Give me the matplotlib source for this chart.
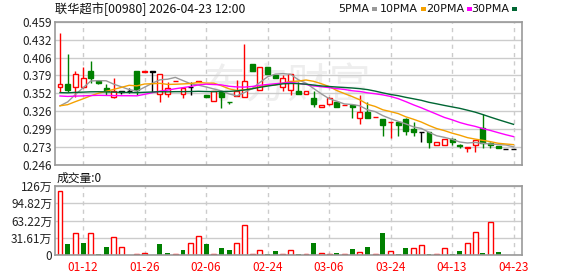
import numpy as np
import matplotlib.pyplot as plt
from matplotlib.patches import Rectangle

plt.rcParams['font.family'] = ['Noto Sans CJK SC', 'DejaVu Sans']

# daily candles (HKD), left to right
opens = [0.3620, 0.3660, 0.3620, 0.3620, 0.3857, 0.3709, 0.3600, 0.3471, 0.3550, 0.3555,
         0.3857, 0.3845, 0.3848, 0.3510, 0.3516, 0.3702, 0.3510, 0.3615, 0.3700, 0.3501,
         0.3412, 0.3550, 0.3395, 0.3490, 0.3466, 0.3961, 0.3570, 0.3912, 0.3798, 0.3615,
         0.3575, 0.3560, 0.3510, 0.3451, 0.3323, 0.3362, 0.3402, 0.3350, 0.3348, 0.3155,
         0.3244, 0.3175, 0.3140, 0.3092, 0.3095, 0.3140, 0.2991, 0.2946, 0.2946, 0.2758,
         0.2758, 0.2843, 0.2752, 0.2709, 0.2758, 0.3006, 0.2793, 0.2748, 0.2699, 0.2699]
closes = [0.3659, 0.3570, 0.3808, 0.3749, 0.3758, 0.3684, 0.3560, 0.3555, 0.3550, 0.3555,
          0.3570, 0.3850, 0.3848, 0.3808, 0.3600, 0.3706, 0.3610, 0.3615, 0.3706, 0.3466,
          0.3555, 0.3466, 0.3390, 0.3560, 0.3709, 0.3862, 0.3912, 0.3813, 0.3758, 0.3748,
          0.3808, 0.3510, 0.3555, 0.3362, 0.3352, 0.3451, 0.3318, 0.3354, 0.3323, 0.3254,
          0.3155, 0.3180, 0.3056, 0.3095, 0.3056, 0.2966, 0.2956, 0.2946, 0.2808, 0.2798,
          0.2848, 0.2808, 0.2748, 0.2734, 0.2838, 0.2783, 0.2758, 0.2709, 0.2699, 0.2699]
highs = [0.4417, 0.4110, 0.3857, 0.3922, 0.4006, 0.3714, 0.3664, 0.3758, 0.3560, 0.3600,
         0.3857, 0.3850, 0.3848, 0.3808, 0.3699, 0.3706, 0.3610, 0.3700, 0.3706, 0.3501,
         0.3555, 0.3550, 0.3395, 0.3724, 0.4258, 0.3961, 0.3912, 0.3912, 0.3798, 0.3798,
         0.3808, 0.3699, 0.3555, 0.3560, 0.3352, 0.3476, 0.3402, 0.3354, 0.3360, 0.3501,
         0.3392, 0.3180, 0.3140, 0.3095, 0.3095, 0.3155, 0.3095, 0.2946, 0.2946, 0.2798,
         0.2848, 0.2868, 0.2768, 0.2734, 0.2838, 0.3214, 0.2808, 0.2748, 0.2699, 0.2699]
lows = [0.3550, 0.3550, 0.3476, 0.3610, 0.3674, 0.3670, 0.3500, 0.3461, 0.3510, 0.3526,
        0.3500, 0.3845, 0.3550, 0.3402, 0.3476, 0.3702, 0.3460, 0.3500, 0.3700, 0.3466,
        0.3412, 0.3313, 0.3362, 0.3490, 0.3466, 0.3862, 0.3570, 0.3813, 0.3758, 0.3560,
        0.3501, 0.3510, 0.3510, 0.3328, 0.3323, 0.3352, 0.3318, 0.3350, 0.3155, 0.3065,
        0.3155, 0.3175, 0.2897, 0.2858, 0.2897, 0.2907, 0.2897, 0.2808, 0.2709, 0.2758,
        0.2758, 0.2758, 0.2719, 0.2650, 0.2660, 0.2709, 0.2709, 0.2709, 0.2699, 0.2699]

# volume in 万 shares, and whether the bar is drawn as an up day
volumes = [117.3, 20.2, 40.3, 22.6, 40.3, 2.4, 14.7, 33.0, 14.0, 0,
           1.8, 4.3, 0, 20.2, 3.7, 1.8, 9.2, 22.0, 34.8, 20.2,
           2.4, 12.8, 9.2, 22.0, 55.0, 2.4, 9.2, 1.0, 7.9, 2.4,
           9.2, 1.8, 1.8, 22.6, 4.3, 2.4, 4.3, 2.4, 11.0, 5.5,
           14.7, 1.8, 40.9, 7.3, 1.8, 12.8, 12.2, 18.3, 1.8, 1.8,
           12.8, 1.8, 7.3, 22.0, 41.5, 3.7, 60.5, 6.1, 0, 0]
vol_up = [1, 0, 1, 0, 1, 0, 0, 1, 1, 1, 1, 1, 1, 0, 0, 1, 0, 1, 1, 0,
          1, 0, 0, 1, 1, 1, 1, 0, 0, 1, 1, 0, 1, 0, 1, 1, 0, 1, 0, 1,
          0, 1, 0, 1, 0, 0, 1, 1, 0, 1, 1, 0, 0, 1, 1, 0, 1, 0, 1, 1]

# closes before the visible window (estimated), needed for the moving averages
prior_closes = [0.366, 0.361, 0.364, 0.362, 0.365, 0.363, 0.366, 0.361, 0.364, 0.364,
                0.370, 0.372, 0.368, 0.366, 0.362, 0.360, 0.358, 0.360, 0.356, 0.360,
                0.340, 0.336, 0.333, 0.331, 0.330,
                0.328, 0.326, 0.325, 0.325]

date_labels = ['01-12', '01-26', '02-06', '02-24', '03-06', '03-24', '04-13', '04-23']
date_idx = [3, 11, 19, 27, 35, 43, 51, 59]

price_ticks = [0.246, 0.273, 0.299, 0.326, 0.352, 0.379, 0.406, 0.432, 0.459]
vol_ticks = [0, 31.61, 63.22, 94.82, 126.44]
vol_tick_labels = ['0', '31.61万', '63.22万', '94.82万', '126万']

ma_periods = [5, 10, 20, 30]
ma_colors = ['#999999', '#f5a100', '#ff00ff', '#006633']

RED = '#ff0000'
GREEN = '#008000'
GRID = '#cccccc'
W, H = 578, 276

fig = plt.figure(figsize=(W / 100, H / 100), dpi=100)
ax = fig.add_axes([55 / W, 1 - 165 / H, 467 / W, 143.3 / H])
axv = fig.add_axes([55 / W, 1 - 255 / H, 467 / W, 69 / H])

n = len(closes)
x = np.arange(n)
lo_edge, hi_edge = -0.65, 60.1

ymin, ymax = 0.246, 0.459
ax.set_ylim(ymin, ymax)
ax.set_yticks(np.linspace(ymin, ymax, 9))
ax.set_yticklabels(['%.3f' % t for t in price_ticks])
axv.set_ylim(0, 126.44)
axv.set_yticks(vol_ticks)
axv.set_yticklabels(vol_tick_labels)

for a in (ax, axv):
    a.set_xlim(lo_edge, hi_edge)
    a.set_xticks(date_idx)
    for s in a.spines.values():
        s.set_color('#999999')
        s.set_linewidth(1.2)
    a.grid(axis='y', color=GRID, lw=1, zorder=0)
    for d in date_idx:
        a.axvline(d, color=GRID, lw=1, ls=(0, (3, 3)), zorder=0)
    a.tick_params(length=0, pad=2, labelsize=8.5, colors='#222222')
ax.set_xticklabels([])
axv.set_xticklabels(date_labels)
axv.tick_params(axis='x', colors=RED, labelsize=8.5, pad=4)

# watermark
ax.text(29.5, 0.362, '东方财富', fontsize=30, color='#eeeeee', ha='center', va='center', zorder=0.5)

# candles
bw = 0.64
for i in range(n):
    o, c, h, l = opens[i], closes[i], highs[i], lows[i]
    if c > o:
        col, face = RED, 'white'
    elif c < o:
        col, face = GREEN, GREEN
    else:
        col, face = 'black', 'black'
    ax.vlines(i, l, h, color=col, lw=1, zorder=2)
    bottom = min(o, c)
    height = max(abs(c - o), 0.0004)
    ax.add_patch(Rectangle((i - bw / 2, bottom), bw, height, facecolor=face,
                           edgecolor=col, lw=1, zorder=2.5))

# moving averages
allc = np.array(prior_closes + closes)
off = len(prior_closes)
for p, colr in zip(ma_periods, ma_colors):
    ma = [allc[off + i - p + 1: off + i + 1].mean() for i in range(n)]
    ax.plot(x, ma, color=colr, lw=1, zorder=3)

# volume bars
for i in range(n):
    if volumes[i] <= 0:
        continue
    if vol_up[i]:
        axv.bar(i, volumes[i], width=bw, facecolor='white', edgecolor=RED, lw=1, zorder=2)
    else:
        axv.bar(i, volumes[i], width=bw, color=GREEN, lw=0, zorder=2)

# header texts
fig.text(55 / W, 1 - 9 / H, '联华超市[00980] 2026-04-23 12:00', fontsize=8.8,
         va='center', ha='left', color='#111111')
fig.text(57 / W, 1 - 178 / H, '成交量:0', fontsize=8.5, va='center', ha='left', color='#111111')

leg_x = [338, 380, 426, 471]
for (p, colr, lx) in zip(ma_periods, ma_colors, leg_x):
    t = fig.text(lx / W, 1 - 9 / H, '%dPMA' % p, fontsize=8, va='center', ha='left',
                 color='#111111', family='DejaVu Sans')
    fig.canvas.draw()
    bb = t.get_window_extent()
    fig.add_artist(Rectangle(((bb.x1 + 3) / W, 1 - 10.5 / H), 5 / W, 3 / H,
                             transform=fig.transFigure, facecolor=colr, edgecolor='none'))

fig.savefig('out.png', dpi=100)
